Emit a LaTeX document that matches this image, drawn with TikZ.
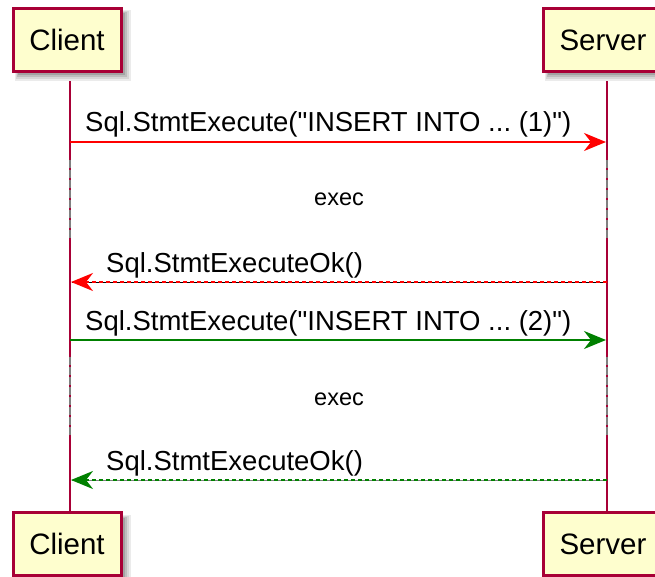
\documentclass[tikz,border=0pt]{standalone}
\usepackage{fontspec}
\setmainfont{Liberation Sans}
\usepackage{tikz}
\usetikzlibrary{arrows.meta}
\definecolor{partfill}{HTML}{FEFECE}
\definecolor{partline}{HTML}{A80036}
\definecolor{okgreen}{HTML}{008000}
\frenchspacing
\tikzstyle{participant}=[draw=partline, fill=partfill, line width=3pt,
    minimum height=63pt, inner sep=0pt,
    font=\fontsize{29.5}{34}\selectfont]
\tikzstyle{lifeline}=[draw=partline, line width=2pt]
\tikzstyle{delay}=[draw=gray, line width=2pt, dash pattern=on 8pt off 2pt]
\tikzstyle{call}=[line width=2pt, -{Stealth[length=22pt,width=18pt,inset=7pt]}, shorten >=1pt]
\tikzstyle{msg}=[anchor=base west, inner sep=0pt, font=\fontsize{27.5}{32}\selectfont]
\tikzstyle{note}=[anchor=base, inner sep=0pt, font=\fontsize{23.5}{28}\selectfont]
% soft shadow under a participant box: corners (x1,y1) and (x2,y2)
\newcommand{\partshadow}[4]{%
  \fill[black!8]  (#1+2,#2+2) rectangle (#3+10,#4+10);
  \fill[black!16] (#1+3,#2+3) rectangle (#3+8,#4+8);
  \fill[black!26] (#1+4,#2+4) rectangle (#3+6,#4+6);
  \fill[black!36] (#1+5,#2+5) rectangle (#3+4,#4+4);
}

\begin{document}
\begin{tikzpicture}[x=1pt, y=-1pt]
\useasboundingbox (0,0) rectangle (655,577);
% lifelines
\coordinate (cli_a) at (70,72);
\coordinate (cli_b) at (70,513);
\coordinate (srv_a) at (607,72);
\coordinate (srv_b) at (607,513);
\draw[lifeline](cli_a) -- (cli_b);
\draw[lifeline](srv_a) -- (srv_b);
% exec delays
\coordinate (cli_d0) at (70,160);
\coordinate (cli_d1) at (70,238);
\coordinate (srv_d0) at (607,160);
\coordinate (srv_d1) at (607,238);
\coordinate (cli_d2) at (70,357);
\coordinate (cli_d3) at (70,435);
\coordinate (srv_d2) at (607,357);
\coordinate (srv_d3) at (607,435);
\draw[delay](cli_d0) -- (cli_d1);
\draw[delay](srv_d0) -- (srv_d1);
\draw[delay](cli_d2) -- (cli_d3);
\draw[delay](srv_d2) -- (srv_d3);
\node[note] (exec1) at (339,206){exec};
\node[note] (exec2) at (339,405){exec};
% participants
\partshadow{13}{8.5}{121}{71.5}
\partshadow{543}{8.5}{663}{71.5}
\partshadow{13}{512.5}{121}{575.5}
\partshadow{543}{512.5}{663}{575.5}
\node[participant, minimum width=108pt] (cli_top) at (67,40){Client};
\node[participant, minimum width=120pt] (srv_top) at (603,40){Server};
\node[participant, minimum width=108pt] (cli_bot) at (67,544){Client};
\node[participant, minimum width=120pt] (srv_bot) at (603,544){Server};
% first insert
\coordinate (cli_m1) at (70,142);
\coordinate (srv_m1) at (607,142);
\draw[call, red](cli_m1) -- (srv_m1);
\node[msg] (m1) at (85,132){Sql.StmtExecute(\textquotedbl INSERT INTO ... (1)\textquotedbl)};
\coordinate (cli_r1) at (70,282);
\coordinate (srv_r1) at (607,282);
\draw[black, line width=0.8pt, shorten >=2pt](srv_r1) -- (cli_r1);
\draw[call, red, dash pattern=on 4pt off 3pt](srv_r1) -- (cli_r1);
\node[msg] (r1) at (106,272){Sql.StmtExecuteOk()};
% second insert
\coordinate (cli_m2) at (70,340);
\coordinate (srv_m2) at (607,340);
\draw[call, okgreen](cli_m2) -- (srv_m2);
\node[msg] (m2) at (85,330){Sql.StmtExecute(\textquotedbl INSERT INTO ... (2)\textquotedbl)};
\coordinate (cli_r2) at (70,480);
\coordinate (srv_r2) at (607,480);
\draw[gray, line width=0.8pt, shorten >=2pt](srv_r2) -- (cli_r2);
\draw[call, okgreen, dash pattern=on 4pt off 3pt](srv_r2) -- (cli_r2);
\node[msg] (r2) at (106,470){Sql.StmtExecuteOk()};
\end{tikzpicture}
\end{document}
